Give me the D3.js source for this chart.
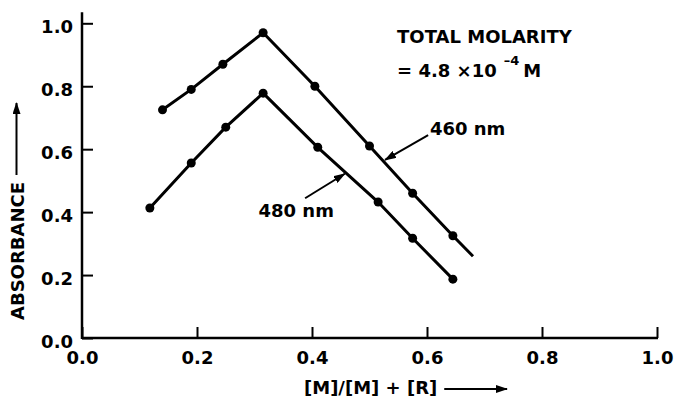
<!DOCTYPE html>
<html>
<head>
<meta charset="utf-8">
<script src="https://cdn.jsdelivr.net/npm/d3@7"></script>
<style>
body { margin: 0; background: #fff; }
text { font-family: "DejaVu Sans", sans-serif; font-weight: bold; fill: #000; }
</style>
</head>
<body>
<script>
//values (mole fraction vs absorbance)

var xTicks = [0, 0.2, 0.4, 0.6, 0.8, 1.0];
var yTicks = [0, 0.2, 0.4, 0.6, 0.8, 1.0];

//460 nm series
var x460 = [0.14, 0.19, 0.245, 0.315, 0.405, 0.50, 0.575, 0.645];
var y460 = [0.725, 0.79, 0.87, 0.97, 0.80, 0.61, 0.46, 0.325];
var tail460 = [0.68, 0.26]; //line runs on past the last point, no dot

//480 nm series
var x480 = [0.118, 0.19, 0.25, 0.315, 0.41, 0.515, 0.575, 0.645];
var y480 = [0.413, 0.556, 0.67, 0.778, 0.606, 0.432, 0.317, 0.187];

//annotations, in data units: [label x, label y, arrow from x, from y, arrow to x, to y]
var note460 = [0.605, 0.645, 0.602, 0.645, 0.527, 0.566];
var note480 = [0.307, 0.384, 0.388, 0.444, 0.457, 0.522];
var molarity = [0.548, 0.937, 0.829]; //x, y of line 1, y of line 2

var w = 676;
var h = 398;
var fs = 18; //font size for all text

var x = d3.scaleLinear().domain([0, 1]).range([82, 657]);
var y = d3.scaleLinear().domain([0, 1]).range([338, 23.3]);

var svg = d3.select("body").append("svg")
	.attr("width", w)
	.attr("height", h);

//arrow head marker
svg.append("defs").append("marker")
	.attr("id", "arr")
	.attr("viewBox", "0 0 12 8")
	.attr("refX", 11)
	.attr("refY", 4)
	.attr("markerWidth", 12)
	.attr("markerHeight", 8)
	.attr("markerUnits", "userSpaceOnUse")
	.attr("orient", "auto")
	.append("path")
	.attr("d", "M0,0 L12,4 L0,8 Z")
	.attr("fill", "#000");

//x axis, ticks point inward (up)
var xAxis = d3.axisBottom(x)
	.tickValues(xTicks)
	.tickFormat(d3.format(".1f"))
	.tickSizeInner(-11)
	.tickSizeOuter(0)
	.tickPadding(13);

var gx = svg.append("g")
	.attr("transform", "translate(0," + y(0) + ")")
	.call(xAxis);

//y axis, ticks point inward (right)
var yAxis = d3.axisLeft(y)
	.tickValues(yTicks)
	.tickFormat(d3.format(".1f"))
	.tickSizeInner(-11)
	.tickSizeOuter(0)
	.tickPadding(9);

var gy = svg.append("g")
	.attr("transform", "translate(" + x(0) + ",0)")
	.call(yAxis);

[gx, gy].forEach(function(g) {
	g.attr("font-family", null).attr("font-size", fs);
	g.select(".domain").remove();
	g.selectAll(".tick line").attr("stroke", "#000").attr("stroke-width", 2);
});
gy.selectAll(".tick text").attr("dy", "0.52em");

//axis lines drawn by hand so the y axis can run past 1.0
svg.append("line")
	.attr("x1", x(0)).attr("x2", x(0))
	.attr("y1", y(0) + 1).attr("y2", y(1) - 11)
	.attr("stroke", "#000").attr("stroke-width", 2.5);

svg.append("line")
	.attr("x1", x(0)).attr("x2", x(1) + 1)
	.attr("y1", y(0)).attr("y2", y(0))
	.attr("stroke", "#000").attr("stroke-width", 2.5);

//series lines and dots
var line = d3.line()
	.x(function(d) { return x(d[0]); })
	.y(function(d) { return y(d[1]); });

var pts460 = x460.map(function(v, i) { return [v, y460[i]]; });
var pts480 = x480.map(function(v, i) { return [v, y480[i]]; });

svg.append("path")
	.datum(pts460.concat([tail460]))
	.attr("d", line)
	.attr("fill", "none")
	.attr("stroke", "#000")
	.attr("stroke-width", 3);

svg.append("path")
	.datum(pts480)
	.attr("d", line)
	.attr("fill", "none")
	.attr("stroke", "#000")
	.attr("stroke-width", 3);

svg.selectAll("circle.dot")
	.data(pts460.concat(pts480))
	.enter()
	.append("circle")
	.attr("class", "dot")
	.attr("cx", function(d) { return x(d[0]); })
	.attr("cy", function(d) { return y(d[1]); })
	.attr("r", 4.5)
	.attr("fill", "#000");

//wavelength labels with arrows
[[note460, "460 nm"], [note480, "480 nm"]].forEach(function(n) {
	var a = n[0];
	svg.append("text")
		.attr("x", x(a[0]))
		.attr("y", y(a[1]))
		.attr("font-size", fs)
		.text(n[1]);
	svg.append("line")
		.attr("x1", x(a[2])).attr("y1", y(a[3]))
		.attr("x2", x(a[4])).attr("y2", y(a[5]))
		.attr("stroke", "#000")
		.attr("stroke-width", 2)
		.attr("marker-end", "url(#arr)");
});

//total molarity note
svg.append("text")
	.attr("x", x(molarity[0]))
	.attr("y", y(molarity[1]))
	.attr("font-size", fs)
	.text("TOTAL MOLARITY");

var t2 = svg.append("text")
	.attr("x", x(molarity[0]))
	.attr("y", y(molarity[2]))
	.attr("font-size", fs);
t2.append("tspan").text("= 4.8 \u00d710");
t2.append("tspan").attr("dy", -12).attr("dx", 7).attr("font-size", 13).text("\u20134");
t2.append("tspan").attr("dy", 12).attr("dx", 4).text("M");

//x axis title with arrow
var xt = svg.append("text")
	.attr("x", 304)
	.attr("y", 394)
	.attr("font-size", fs)
	.style("white-space", "pre")
	.text("[M]/[M] + [R]");
var xtEnd = 304 + xt.node().getComputedTextLength();

svg.append("line")
	.attr("x1", xtEnd + 7).attr("x2", 507)
	.attr("y1", 389).attr("y2", 389)
	.attr("stroke", "#000")
	.attr("stroke-width", 2)
	.attr("marker-end", "url(#arr)");

//y axis title with arrow
var yt = svg.append("text")
	.attr("transform", "translate(24,320) rotate(-90)")
	.attr("font-size", fs)
	.text("ABSORBANCE");
var ytEnd = 320 - yt.node().getComputedTextLength();

svg.append("line")
	.attr("x1", 16.5).attr("x2", 16.5)
	.attr("y1", ytEnd - 7).attr("y2", 103)
	.attr("stroke", "#000")
	.attr("stroke-width", 2)
	.attr("marker-end", "url(#arr)");
</script>
</body>
</html>
